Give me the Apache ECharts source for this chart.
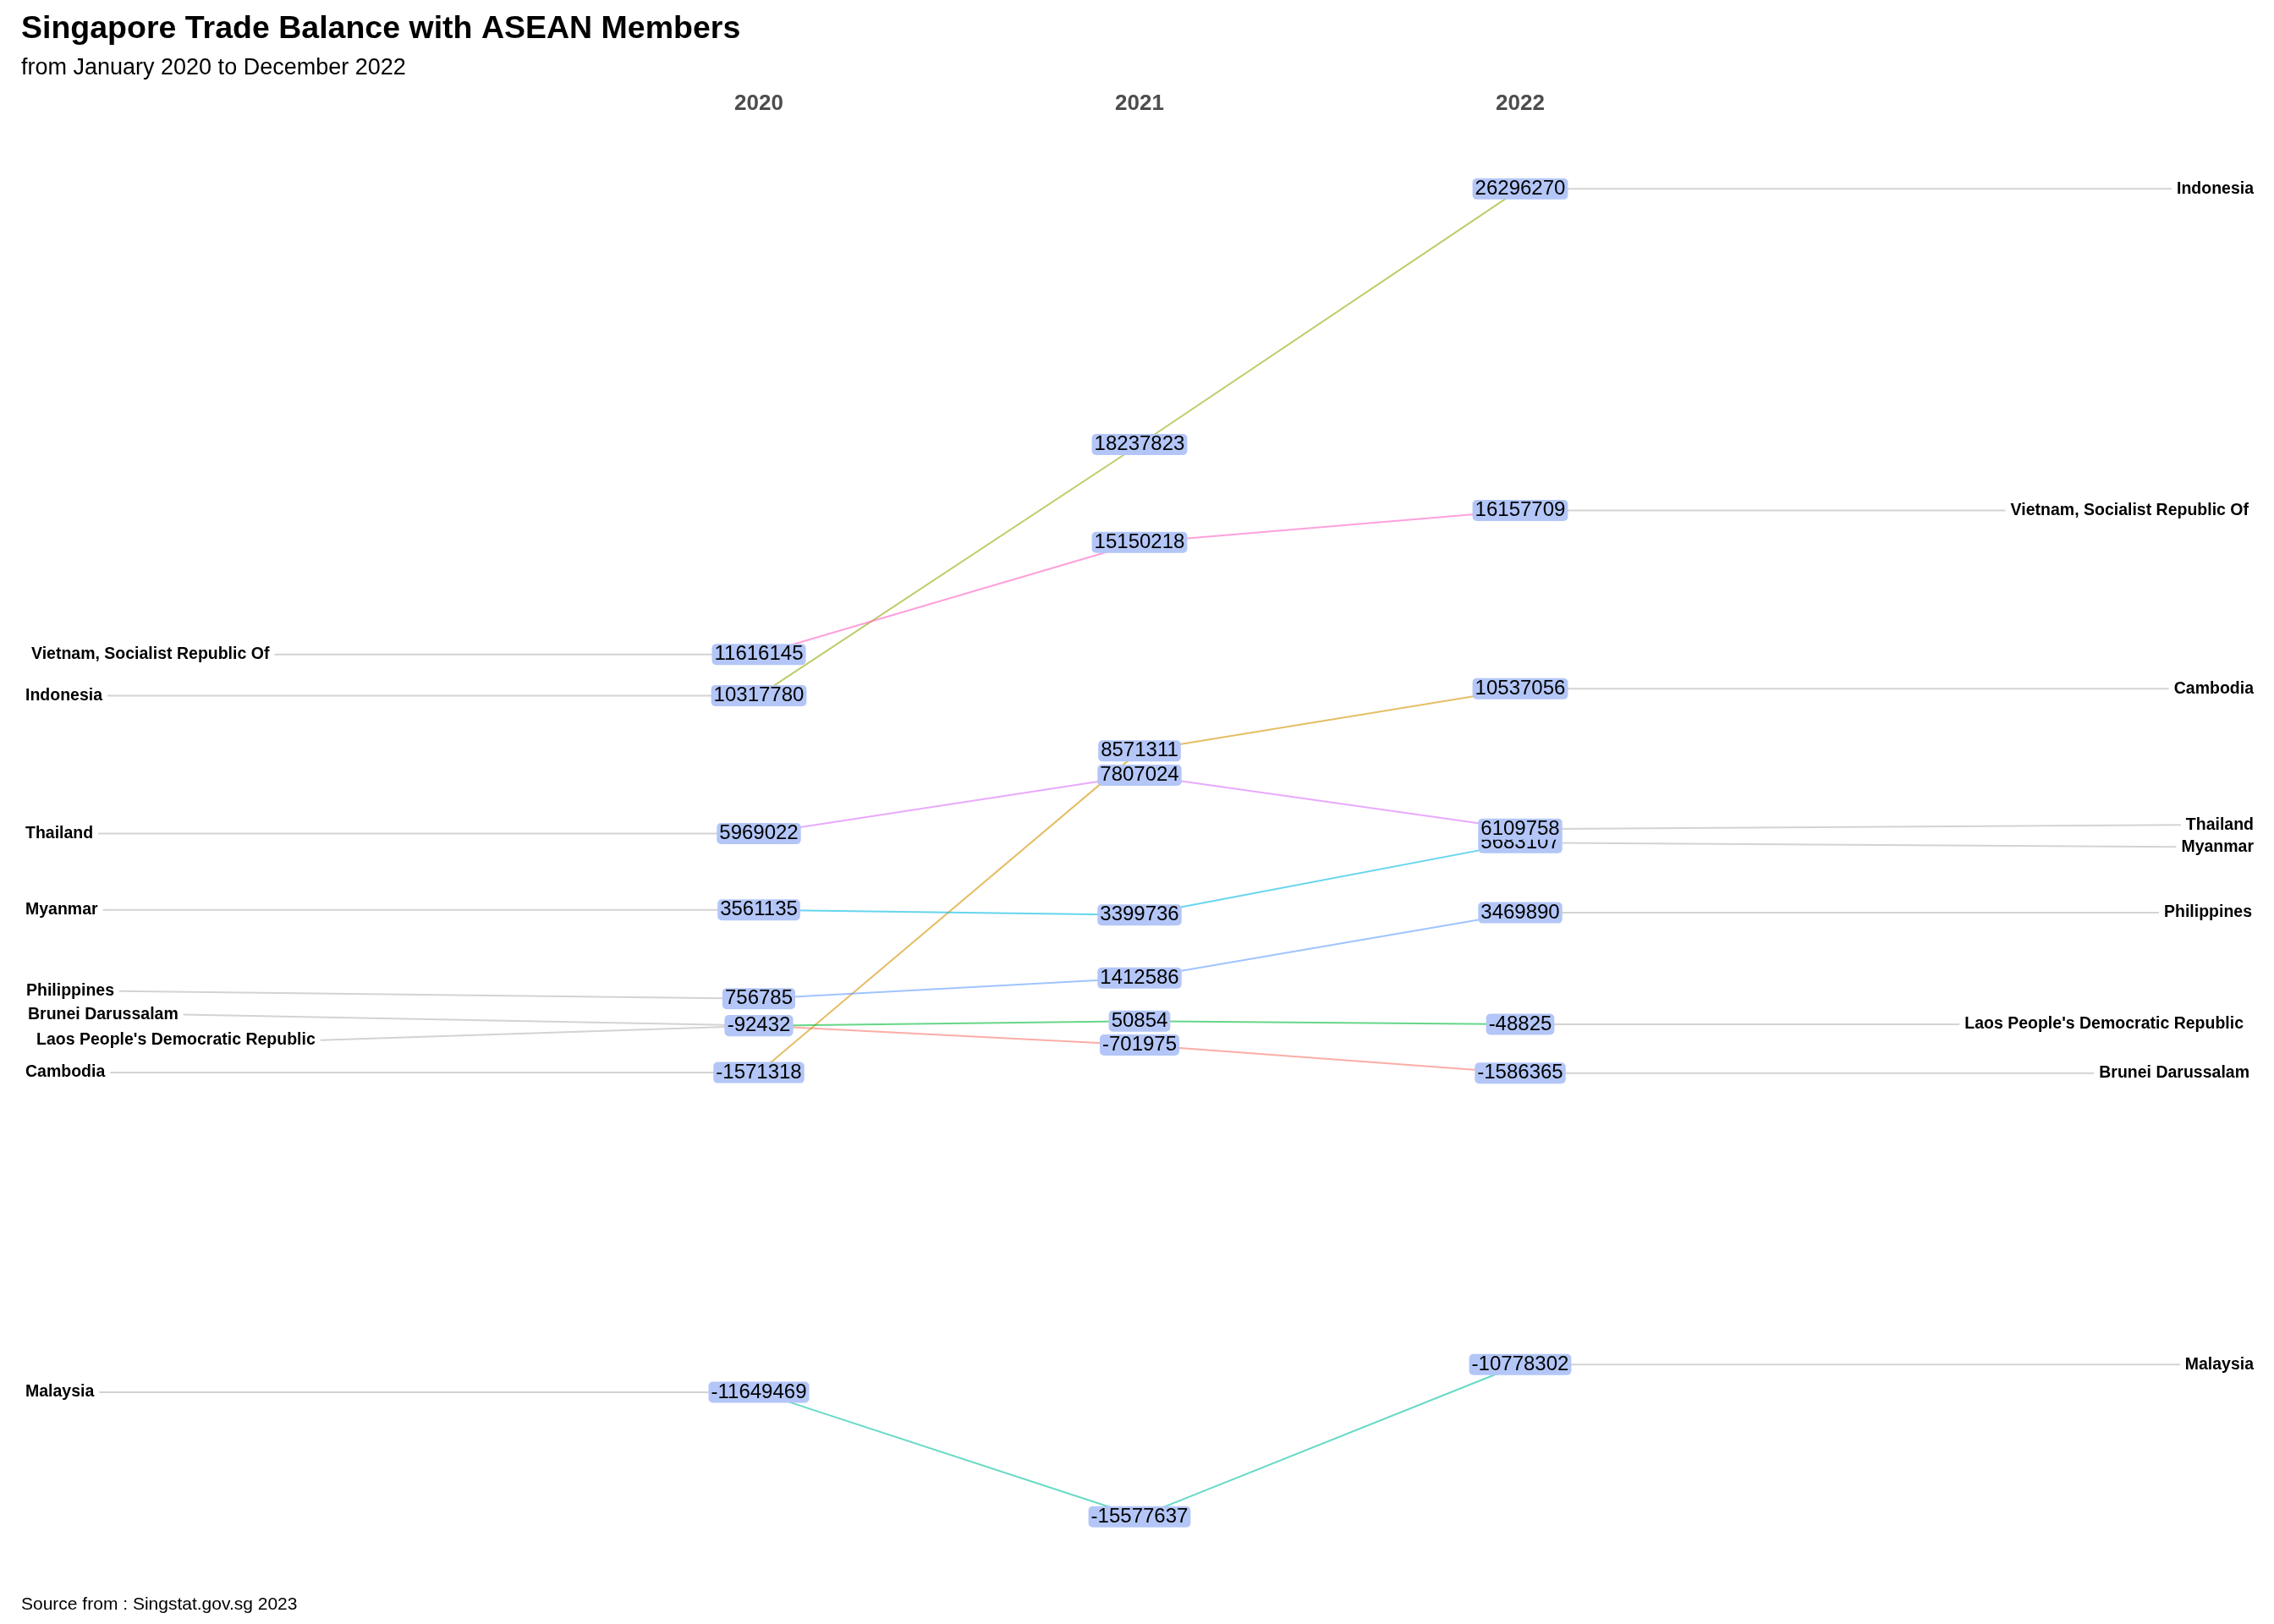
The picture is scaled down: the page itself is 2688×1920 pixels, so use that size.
<!DOCTYPE html>
<html><head><meta charset="utf-8">
<script src="https://cdn.jsdelivr.net/npm/echarts@6/dist/echarts.min.js"></script>
<style>html,body{margin:0;padding:0;background:#fff}#c{width:2688px;height:1920px}</style>
</head><body><div id="c"></div>
<script>
// ---- data ----
const years = ['2020', '2021', '2022'];
const countries = ['Brunei Darussalam', 'Cambodia', 'Indonesia', "Laos People's Democratic Republic", 'Malaysia', 'Myanmar', 'Philippines', 'Thailand', 'Vietnam, Socialist Republic Of'];
const values2020 = [-87000, -1571318, 10317780, -92432, -11649469, 3561135, 756785, 5969022, 11616145];
const values2021 = [-701975, 8571311, 18237823, 50854, -15577637, 3399736, 1412586, 7807024, 15150218];
const values2022 = [-1586365, 10537056, 26296270, -48825, -10778302, 5683107, 3469890, 6109758, 16157709];
const titleText = 'Singapore Trade Balance with ASEAN Members';
const subtitleText = 'from January 2020 to December 2022';
const captionText = 'Source from : Singstat.gov.sg 2023';

// ---- style ----
const colors = ['#F8766D', '#D39200', '#93AA00', '#00BA38', '#00C19F', '#00B9E3', '#619CFF', '#DB72FB', '#FF61C3'];
const FONT = '"Liberation Sans", Arial, Helvetica, sans-serif';
const CFONT = 'bold 19.5px ' + FONT;
const VFONT = '24px ' + FONT;
// label repel nudges in pixels [dx, dy]
const leftNudge = {
  'Philippines': [1, -9], 'Brunei Darussalam': [3, -13], "Laos People's Democratic Republic": [13, 17],
  'Vietnam, Socialist Republic Of': [7, 0]
};
const rightNudge = {
  'Thailand': [0, -5], 'Myanmar': [0, 5], "Laos People's Democratic Republic": [-12, 0],
  'Vietnam, Socialist Republic Of': [-6, 0], 'Brunei Darussalam': [-5, 0], 'Philippines': [-2, 0]
};

const mctx = document.createElement('canvas').getContext('2d');
function tw(text, font) { mctx.font = font; return mctx.measureText(text).width; }

const allVals = [values2020, values2021, values2022];

const lineSeries = countries.map((c, i) => ({
  type: 'line', name: c, silent: true, symbol: 'none', z: 2,
  data: allVals.map((arr, k) => [k + 1, arr[i]]),
  lineStyle: { color: colors[i], width: 2, opacity: 0.6 },
  itemStyle: { color: colors[i] }
}));

const leaderData = [];
countries.forEach((c, i) => {
  leaderData.push([1, values2020[i], i, 0]);
  leaderData.push([3, values2022[i], i, 1]);
});

const labelData = [];
countries.forEach((c, i) => {
  allVals.forEach((arr, k) => labelData.push([k + 1, arr[i], i]));
});

const chart = echarts.init(document.getElementById('c'), null, { renderer: 'canvas' });
chart.setOption({
  animation: false,
  backgroundColor: '#ffffff',
  title: [
    { text: titleText, left: 20, top: 11, textStyle: { fontFamily: FONT, fontSize: 37.5, fontWeight: 'bold', color: '#000' } },
    { text: subtitleText, left: 20, top: 62, textStyle: { fontFamily: FONT, fontSize: 27, fontWeight: 'normal', color: '#000' } },
    { text: captionText, left: 20, top: 1882, textStyle: { fontFamily: FONT, fontSize: 21, fontWeight: 'normal', color: '#000' } }
  ],
  grid: { left: 30, right: 24, top: 152, height: 1717 },
  xAxis: {
    type: 'value', position: 'top', min: -0.9267, max: 4.9267,
    axisLine: { show: false }, axisTick: { show: false }, splitLine: { show: false },
    axisLabel: {
      customValues: [1, 2, 3], margin: 16,
      formatter: v => years[Math.round(v) - 1] || '',
      fontFamily: FONT, fontSize: 26, fontWeight: 'bold', color: '#4d4d4d'
    }
  },
  yAxis: { type: 'value', show: false, min: -17600000, max: 28200000, splitLine: { show: false } },
  series: [
    {
      type: 'custom', silent: true, z: 1, clip: false,
      data: leaderData,
      renderItem: function (params, api) {
        const i = api.value(2), side = api.value(3);
        const pt = api.coord([api.value(0), api.value(1)]);
        const nd = (side === 0 ? leftNudge : rightNudge)[countries[i]] || [0, 0];
        const ly = pt[1] + nd[1];
        const w = tw(countries[i], CFONT);
        const cs = params.coordSys;
        let tx, align, line;
        if (side === 0) {
          tx = cs.x + nd[0]; align = 'left';
          line = { x1: tx + w + 6, y1: ly, x2: pt[0], y2: pt[1] };
        } else {
          tx = cs.x + cs.width + nd[0]; align = 'right';
          line = { x1: pt[0], y1: pt[1], x2: tx - w - 6, y2: ly };
        }
        return {
          type: 'group', children: [
            { type: 'line', shape: line, style: { stroke: '#d3d3d3', lineWidth: 2 } },
            { type: 'text', x: tx, y: ly, style: { text: countries[i], font: CFONT, fill: '#000', align: align, verticalAlign: 'middle' } }
          ]
        };
      }
    },
    ...lineSeries,
    {
      type: 'custom', silent: true, z: 5, clip: false,
      data: labelData,
      renderItem: function (params, api) {
        const pt = api.coord([api.value(0), api.value(1)]);
        return {
          type: 'text', x: pt[0], y: pt[1],
          style: {
            text: String(api.value(1)), font: VFONT, fill: '#000',
            align: 'center', verticalAlign: 'middle',
            backgroundColor: '#b3c6f7', padding: [1, 3, 0, 3], borderRadius: 5
          }
        };
      }
    }
  ]
});
</script>
</body></html>
